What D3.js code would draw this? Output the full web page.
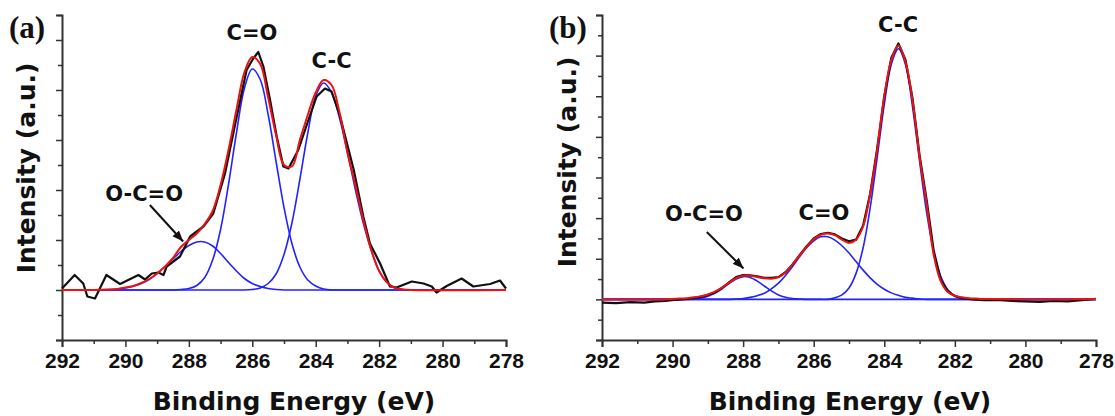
<!DOCTYPE html>
<html>
<head>
<meta charset="utf-8">
<script src="https://d3js.org/d3.v7.min.js"></script>
<style>
  body { margin: 0; background: #fff; }
  .tick text { font-family: "Liberation Sans", Arial, sans-serif; font-weight: bold; font-size: 21px; fill: #111; }
  .title { font-family: "DejaVu Sans", sans-serif; font-weight: bold; font-size: 25px; fill: #111; }
  .peak { font-family: "DejaVu Sans", sans-serif; font-weight: bold; font-size: 21px; fill: #111; }
  .letter { font-family: "Liberation Serif", "Times New Roman", serif; font-weight: bold; font-size: 31px; fill: #111; }
</style>
</head>
<body>
<svg width="1115" height="416"></svg>
<script>
// ---------- panel (a) ----------
const gridA = [292, 291, 290.5, 290.25, 290, 289.75, 289.5, 289.25, 289, 288.75, 288.5, 288.25, 288,
  287.75, 287.5, 287.25, 287, 286.75, 286.5, 286.25, 286, 285.75, 285.5, 285.25, 285, 284.75, 284.5,
  284.25, 284, 283.75, 283.5, 283.25, 283, 282.75, 282.5, 282.25, 282, 281.75, 281.5, 281.25, 281, 278];
const ocoA = [0, 0, 0.01, 0.02, 0.04, 0.075, 0.13, 0.21, 0.33, 0.47, 0.62, 0.77, 0.89, 0.96, 0.96, 0.88,
  0.73, 0.55, 0.38, 0.23, 0.13, 0.07, 0.03, 0.01, 0, 0, 0, 0, 0, 0, 0, 0, 0, 0, 0, 0, 0, 0, 0, 0, 0, 0];
const coA = [0, 0, 0, 0, 0, 0, 0, 0, 0, 0, 0, 0.01, 0.03, 0.09, 0.25, 0.6, 1.21, 2.11, 3.14, 4.03, 4.42,
  4.21, 3.51, 2.57, 1.65, 0.93, 0.46, 0.2, 0.08, 0.02, 0, 0, 0, 0, 0, 0, 0, 0, 0, 0, 0, 0];
const ccA = [0, 0, 0, 0, 0, 0, 0, 0, 0, 0, 0, 0, 0, 0, 0, 0, 0, 0, 0, 0, 0.01, 0.04, 0.13, 0.32, 0.71,
  1.34, 2.21, 3.14, 3.88, 4.14, 3.95, 3.44, 2.75, 2.01, 1.34, 0.8, 0.38, 0.15, 0.05, 0.01, 0, 0];
const fitA = [0, 0, 0.01, 0.02, 0.05, 0.08, 0.14, 0.22, 0.33, 0.47, 0.64, 0.86, 1.0, 1.13, 1.32, 1.58,
  2.1, 2.8, 3.6, 4.35, 4.66, 4.52, 3.85, 3.1, 2.5, 2.47, 3.0, 3.5, 3.95, 4.2, 4.1, 3.55, 2.75, 2.1, 1.4,
  0.8, 0.38, 0.15, 0.04, 0.01, 0, 0];
const rawAE = [292, 291.6, 291.33, 291.2, 290.96, 290.6, 290.17, 289.59, 289.38, 289.17, 288.96, 288.8,
  288.7, 288.28, 287.96, 287.54, 287.23, 286.86, 286.49, 286.18, 285.97, 285.81, 285.65, 285.44, 285.23,
  285.02, 284.86, 284.55, 284.23, 283.97, 283.71, 283.5, 283.23, 282.8, 282.5, 282.29, 281.97, 281.66,
  281.45, 280.97, 280.6, 280.34, 280.19, 279.87, 279.4, 279.03, 278.5, 278.19, 278];
const rawAI = [0.03, 0.3, 0.13, -0.13, -0.17, 0.3, 0.12, 0.3, 0.21, 0.33, 0.35, 0.3, 0.47, 0.67, 1.07,
  1.27, 1.53, 2.33, 3.47, 4.4, 4.63, 4.76, 4.47, 3.8, 3.07, 2.47, 2.43, 2.8, 3.4, 3.87, 4.03, 3.97, 3.47,
  2.4, 1.47, 0.93, 0.53, 0.07, 0.05, 0.17, 0.13, 0.07, -0.05, 0.08, 0.23, 0.07, 0.12, 0.19, 0.03];

// ---------- panel (b) ----------
const gridB = [292, 291, 290.4, 290.2, 290.0, 289.8, 289.6, 289.4, 289.2, 289.0, 288.8, 288.6, 288.4,
  288.2, 288.0, 287.8, 287.6, 287.4, 287.2, 287.0, 286.8, 286.6, 286.4, 286.2, 286.0, 285.8, 285.6, 285.4,
  285.2, 285.0, 284.8, 284.6, 284.4, 284.2, 284.0, 283.8, 283.6, 283.4, 283.2, 283.0, 282.8, 282.6, 282.4,
  282.2, 282.0, 281.8, 281.6, 281.4, 281.2, 281.0, 280, 279, 278];
const ocoB = [0, 0, 0, 0, 0, 0, 0, 0.01, 0.03, 0.08, 0.15, 0.26, 0.39, 0.5, 0.56, 0.54, 0.45, 0.33, 0.21,
  0.11, 0.05, 0.02, 0.01, 0, 0, 0, 0, 0, 0, 0, 0, 0, 0, 0, 0, 0, 0, 0, 0, 0, 0, 0, 0, 0, 0, 0, 0, 0, 0,
  0, 0, 0, 0];
const coB = [0, 0, 0, 0, 0, 0, 0, 0, 0, 0, 0, 0, 0, 0.01, 0.02, 0.05, 0.09, 0.15, 0.26, 0.4, 0.59, 0.81,
  1.05, 1.27, 1.44, 1.54, 1.54, 1.46, 1.32, 1.14, 0.93, 0.72, 0.53, 0.37, 0.25, 0.16, 0.1, 0.05, 0.03,
  0.01, 0, 0, 0, 0, 0, 0, 0, 0, 0, 0, 0, 0, 0];
const ccB = [0, 0, 0, 0, 0, 0, 0, 0, 0, 0, 0, 0, 0, 0, 0, 0, 0, 0, 0, 0, 0, 0, 0, 0, 0, 0, 0, 0.04, 0.11,
  0.28, 0.64, 1.27, 2.25, 3.5, 4.8, 5.79, 6.17, 5.78, 4.74, 3.4, 2.14, 1.18, 0.57, 0.24, 0.09, 0.03, 0.01,
  0, 0, 0, 0, 0, 0];
const fitB = [0, 0, 0, 0, 0.01, 0.02, 0.03, 0.05, 0.08, 0.12, 0.19, 0.29, 0.41, 0.52, 0.58, 0.58, 0.55,
  0.52, 0.51, 0.54, 0.66, 0.86, 1.08, 1.29, 1.48, 1.59, 1.62, 1.58, 1.47, 1.39, 1.47, 1.8, 2.6, 3.7, 5.0,
  5.9, 6.25, 5.85, 4.9, 3.5, 2.36, 1.1, 0.45, 0.18, 0.09, 0.05, 0.03, 0.02, 0.01, 0.01, 0, 0, 0.01];
const rawBE = [292, 291.6, 291.2, 290.8, 290.5, 290.2, 289.9, 289.6, 289.4, 289.2, 289.0, 288.8, 288.6,
  288.4, 288.2, 288.0, 287.8, 287.6, 287.4, 287.2, 287.0, 286.8, 286.6, 286.4, 286.2, 286.0, 285.8, 285.6,
  285.4, 285.2, 285.0, 284.8, 284.6, 284.4, 284.2, 284.0, 283.8, 283.6, 283.4, 283.2, 283.0, 282.8, 282.6,
  282.4, 282.2, 282.0, 281.8, 281.5, 281.2, 280.8, 280.4, 280.0, 279.6, 279.2, 278.8, 278.4, 278.0];
const rawBI = [-0.08, -0.09, -0.07, -0.08, -0.05, -0.04, -0.01, 0.01, 0.03, 0.06, 0.11, 0.17, 0.28, 0.42,
  0.55, 0.6, 0.59, 0.57, 0.53, 0.53, 0.55, 0.67, 0.86, 1.09, 1.31, 1.5, 1.61, 1.64, 1.6, 1.5, 1.43, 1.47,
  1.82, 2.6, 3.72, 5.0, 5.95, 6.3, 5.9, 4.95, 3.55, 2.45, 1.2, 0.48, 0.2, 0.08, 0.03, 0.0, -0.02, -0.01,
  -0.04, -0.05, -0.06, -0.04, -0.05, -0.02, 0.01];

const xTicks = [292, 290, 288, 286, 284, 282, 280, 278];
const xMinor = [291, 289, 287, 285, 283, 281, 279];

// peak labels and arrows, in data units (eV, intensity)
const labelsA = [['C=O', 286.01, 5.0], ['C-C', 283.5, 4.44], ['O-C=O', 289.41, 1.78]];
const labelsB = [['C-C', 283.61, 6.58], ['C=O', 285.71, 1.95], ['O-C=O', 289.11, 1.93]];
const arrowA = [[289.23, 1.7], [288.18, 0.97]];
const arrowB = [[289.03, 1.66], [287.99, 0.76]];

const svg = d3.select('svg');

svg.append('defs').append('marker')
    .attr('id', 'head')
    .attr('markerUnits', 'userSpaceOnUse')
    .attr('viewBox', '0 0 10 8')
    .attr('refX', 10).attr('refY', 4)
    .attr('markerWidth', 11).attr('markerHeight', 9)
    .attr('orient', 'auto')
  .append('path')
    .attr('d', 'M0,0L10,4L0,8Z')
    .attr('fill', '#111');

function panel(p) {
  const x = d3.scaleLinear().domain([292, 278]).range(p.xr);
  const y = d3.scaleLinear().domain([-1, p.top]).range([340, 15]);
  const g = svg.append('g');

  // axes
  g.append('g').attr('transform', 'translate(0,340)')
      .call(d3.axisBottom(x).tickValues(xTicks).tickSize(7).tickPadding(6).tickFormat(d3.format('d')));
  g.append('g').attr('transform', 'translate(0,340)')
      .call(d3.axisBottom(x).tickValues(xMinor).tickSize(4).tickFormat(''))
      .select('.domain').remove();
  g.append('g').attr('transform', `translate(${p.xr[0]},0)`)
      .call(d3.axisLeft(y).tickValues(d3.range(-1, p.top + 0.01, 1)).tickSize(6).tickFormat(''));
  g.append('g').attr('transform', `translate(${p.xr[0]},0)`)
      .call(d3.axisLeft(y).tickValues(d3.range(-0.5, p.top + 0.01, 1)).tickSize(4).tickFormat(''))
      .select('.domain').remove();
  g.selectAll('.domain').attr('stroke', '#333').attr('stroke-width', 2);
  g.selectAll('.tick line').attr('stroke', '#333').attr('stroke-width', 1.5);

  const smooth = d3.line().x(d => x(d[0])).y(d => y(d[1])).curve(d3.curveCatmullRom.alpha(0.5));
  const straight = d3.line().x(d => x(d[0])).y(d => y(d[1]));

  p.comps.forEach(c => {
    g.append('path').datum(d3.zip(p.grid, c))
        .attr('d', smooth).attr('fill', 'none')
        .attr('stroke', '#2222ff').attr('stroke-width', 1.6);
  });
  g.append('path').datum(d3.zip(p.rawE, p.rawI))
      .attr('d', straight).attr('fill', 'none')
      .attr('stroke', '#111').attr('stroke-width', 2.2).attr('stroke-linejoin', 'round');
  g.append('path').datum(d3.zip(p.grid, p.fit))
      .attr('d', smooth).attr('fill', 'none')
      .attr('stroke', '#ee1111').attr('stroke-width', 2);

  g.selectAll('.peak').data(p.labels).enter().append('text')
      .attr('class', 'peak')
      .attr('x', d => x(d[1])).attr('y', d => y(d[2]))
      .attr('text-anchor', 'middle')
      .text(d => d[0]);

  g.append('line')
      .attr('x1', x(p.arrow[0][0])).attr('y1', y(p.arrow[0][1]))
      .attr('x2', x(p.arrow[1][0])).attr('y2', y(p.arrow[1][1]))
      .attr('stroke', '#111').attr('stroke-width', 2)
      .attr('marker-end', 'url(#head)');

  g.append('text').attr('class', 'letter')
      .attr('x', p.xr[0] - 53).attr('y', 38).text(p.letter);

  g.append('text').attr('class', 'title')
      .attr('x', p.xTitle).attr('y', 410)
      .attr('text-anchor', 'middle')
      .text('Binding Energy (eV)');

  g.append('text').attr('class', 'title')
      .attr('transform', `translate(${p.yTitle[0]},${p.yTitle[1]}) rotate(-90)`)
      .attr('text-anchor', 'middle')
      .text('Intensity (a.u.)');
}

panel({ xr: [62, 506], top: 5.5, grid: gridA, comps: [ocoA, coA, ccA], fit: fitA,
  rawE: rawAE, rawI: rawAI, labels: labelsA, arrow: arrowA, letter: '(a)',
  xTitle: 294, yTitle: [35, 168] });
panel({ xr: [602, 1096], top: 7, grid: gridB, comps: [ocoB, coB, ccB], fit: fitB,
  rawE: rawBE, rawI: rawBI, labels: labelsB, arrow: arrowB, letter: '(b)',
  xTitle: 850, yTitle: [576, 162] });
</script>
</body>
</html>
